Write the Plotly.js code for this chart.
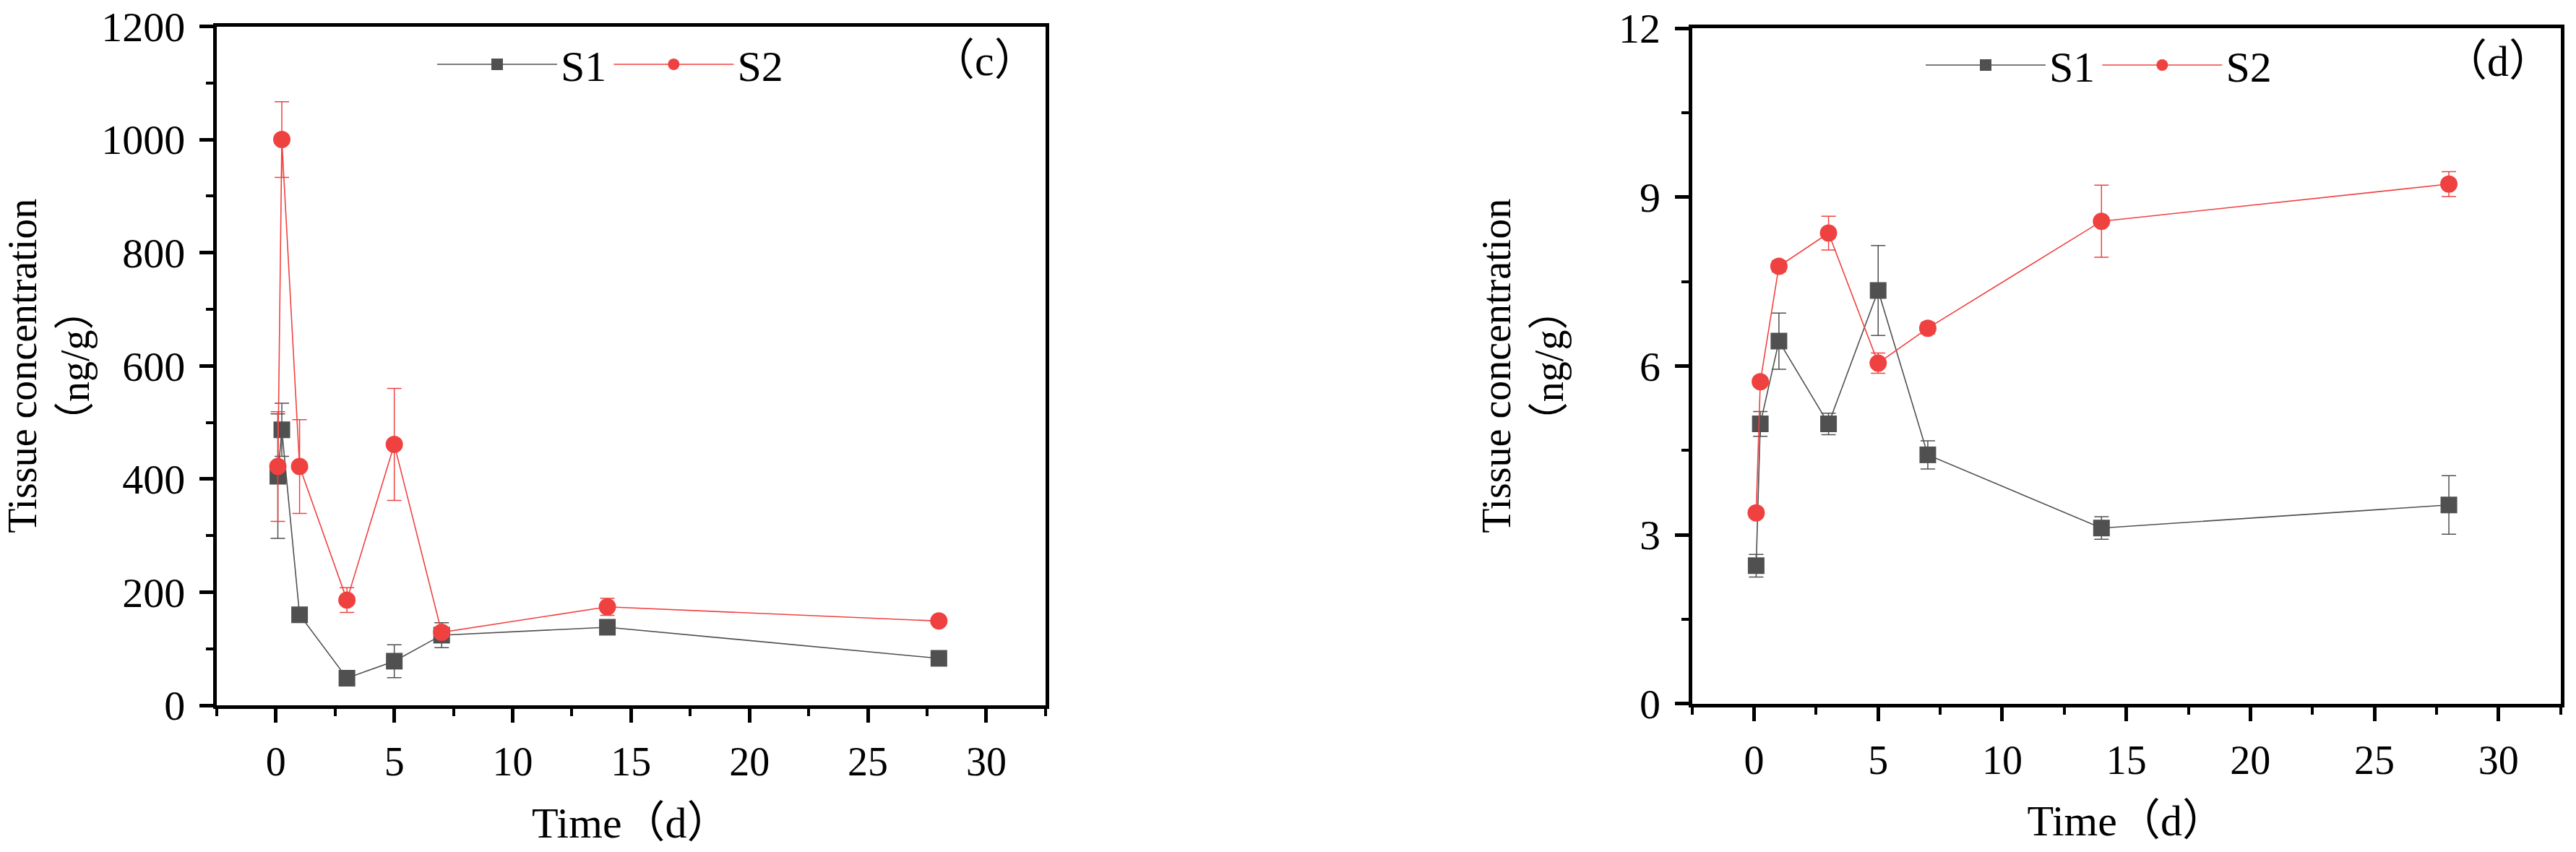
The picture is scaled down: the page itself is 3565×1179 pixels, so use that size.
<!DOCTYPE html>
<html>
<head>
<meta charset="utf-8">
<script src="https://cdn.plot.ly/plotly-3.0.1.min.js"></script>
<style>
  html, body { margin: 0; padding: 0; background: #fff; }
  #chart { width: 3565px; height: 1179px; }
</style>
</head>
<body>
<div id="chart"></div>
<script>
// ---------- data ----------
const time = [0.083, 0.25, 1, 3, 5, 7, 14, 28];

// panel (c)
const c_S1 = [405, 487, 160, 48, 78, 124, 138, 83];
const c_S1_sd = [110, 47, 6, 5, 29, 22, 6, 6];
const c_S2 = [422, 1000, 422, 186, 461, 129, 174, 149];
const c_S2_sd = [97, 67, 83, 22, 99, 8, 15, 5];

// panel (d)
const d_S1 = [2.45, 4.97, 6.44, 4.97, 7.34, 4.42, 3.12, 3.53];
const d_S1_sd = [0.2, 0.22, 0.5, 0.19, 0.8, 0.25, 0.2, 0.52];
const d_S2 = [3.39, 5.72, 7.77, 8.36, 6.05, 6.67, 8.57, 9.23];
const d_S2_sd = [0.08, 0.08, 0.1, 0.3, 0.18, 0.1, 0.64, 0.22];

const seriesNames = ['S1', 'S2'];
const panelLabels = ['（c）', '（d）'];
const xTitle = 'Time（d）';
const yTitle = 'Tissue concentration<br>（ng/g）';

// ---------- style ----------
const FONT = 'Liberation Serif, Times New Roman, Noto Sans CJK SC, serif';
const GRAY = '#505050';
const RED = '#F04141';
const W = 3565, H = 1179;

function makeTraces(ys1, sd1, ys2, sd2, xa, ya, lg) {
  return [
    {
      x: time, y: ys1, name: seriesNames[0], xaxis: xa, yaxis: ya, legend: lg,
      mode: 'lines+markers', type: 'scatter',
      line: { color: GRAY, width: 1.6 },
      marker: { symbol: 'square', size: 23, color: GRAY },
      error_y: { type: 'data', array: sd1, visible: true, color: GRAY, thickness: 1.5, width: 10 }
    },
    {
      x: time, y: ys2, name: seriesNames[1], xaxis: xa, yaxis: ya, legend: lg,
      mode: 'lines+markers', type: 'scatter',
      line: { color: RED, width: 1.6 },
      marker: { symbol: 'circle', size: 24, color: RED },
      error_y: { type: 'data', array: sd2, visible: true, color: RED, thickness: 1.5, width: 10 }
    }
  ];
}

const data = [
  ...makeTraces(c_S1, c_S1_sd, c_S2, c_S2_sd, 'x', 'y', 'legend'),
  ...makeTraces(d_S1, d_S1_sd, d_S2, d_S2_sd, 'x2', 'y2', 'legend2')
];

function xAxis(domain, anchor) {
  return {
    domain: domain, anchor: anchor,
    range: [-2.5, 32.5], tick0: 0, dtick: 5,
    ticks: 'outside', ticklen: 19, tickwidth: 5, tickcolor: '#000',
    showline: true, linewidth: 5, linecolor: '#000', mirror: true,
    showgrid: false, zeroline: false,
    tickfont: { family: FONT, size: 56, color: '#000' },
    ticklabelstandoff: 6,
    minor: { dtick: 2.5, ticks: 'outside', ticklen: 10, tickwidth: 4, tickcolor: '#000', showgrid: false },
    title: { text: xTitle, font: { family: FONT, size: 60, color: '#000' }, standoff: 34 }
  };
}

function yAxis(domain, anchor, range, dtick, standoff) {
  return {
    domain: domain, anchor: anchor,
    range: range, tick0: 0, dtick: dtick,
    ticks: 'outside', ticklen: 19, tickwidth: 5, tickcolor: '#000',
    showline: true, linewidth: 5, linecolor: '#000', mirror: true,
    showgrid: false, zeroline: false,
    tickfont: { family: FONT, size: 58, color: '#000' },
    ticklabelstandoff: 8,
    minor: { dtick: dtick / 2, ticks: 'outside', ticklen: 10, tickwidth: 4, tickcolor: '#000', showgrid: false },
    title: { text: yTitle, font: { family: FONT, size: 56, color: '#000' }, standoff: standoff }
  };
}

function legendAt(xpx, ypx) {
  return {
    x: xpx / W, xanchor: 'left', xref: 'paper',
    y: 1 - ypx / H, yanchor: 'middle', yref: 'paper',
    orientation: 'h', itemwidth: 166,
    font: { family: FONT, size: 60, color: '#000' },
    bgcolor: 'rgba(0,0,0,0)', borderwidth: 0
  };
}

const layout = {
  width: W, height: H,
  margin: { l: 0, r: 0, t: 0, b: 0 },
  paper_bgcolor: '#fff', plot_bgcolor: '#fff',
  showlegend: true,
  xaxis: xAxis([299.9 / W, 1446.8 / W], 'y'),
  yaxis: yAxis([(H - 976) / H, (H - 36.5) / H], 'x', [0, 1200], 200, 10),
  xaxis2: xAxis([2341.7 / W, 3543.6 / W], 'y2'),
  yaxis2: yAxis([(H - 973.7) / H, (H - 39) / H], 'x2', [0, 12], 3, 60),
  legend: legendAt(600, 89),
  legend2: legendAt(2660, 90),
  annotations: [
    { text: panelLabels[0], xref: 'paper', yref: 'paper', x: 1362 / W, y: 1 - 84 / H,
      xanchor: 'center', yanchor: 'middle', showarrow: false,
      font: { family: FONT, size: 60, color: '#000' } },
    { text: panelLabels[1], xref: 'paper', yref: 'paper', x: 3457 / W, y: 1 - 85 / H,
      xanchor: 'center', yanchor: 'middle', showarrow: false,
      font: { family: FONT, size: 60, color: '#000' } }
  ]
};

Plotly.newPlot('chart', data, layout, { displayModeBar: false, staticPlot: true });
</script>
</body>
</html>
